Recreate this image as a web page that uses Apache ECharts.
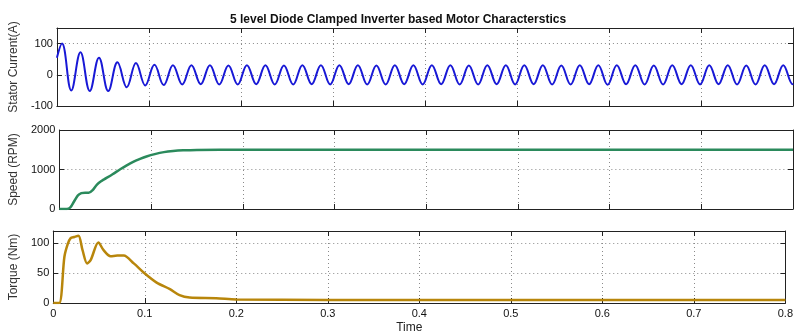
<!DOCTYPE html>
<html><head><meta charset="utf-8">
<script src="https://cdn.jsdelivr.net/npm/echarts@6/dist/echarts.min.js"></script>
<style>html,body{margin:0;padding:0;background:#fff}#c{width:796px;height:335px}</style>
</head><body><div id="c"></div>
<script>
const titleText = '5 level Diode Clamped Inverter based Motor Characterstics';
const yNames = ['Stator Current(A)', 'Speed (RPM)', 'Torque (Nm)'];
const xName = 'Time';

// Stator current: extrema (peaks / troughs)
const currentT = [0, 0.0055, 0.0156, 0.0256, 0.0357, 0.0457, 0.0558, 0.0658, 0.0759, 0.0859, 0.0960,
  0.1060, 0.1161, 0.1261, 0.1362, 0.1462, 0.1563, 0.1663, 0.1764, 0.1864, 0.1965,
  0.2065, 0.2166, 0.2266, 0.2367, 0.2467, 0.2568, 0.2668, 0.2769, 0.2869, 0.2970,
  0.3070, 0.3171, 0.3271, 0.3372, 0.3472, 0.3573, 0.3673, 0.3774, 0.3874, 0.3975,
  0.4075, 0.4176, 0.4276, 0.4377, 0.4477, 0.4578, 0.4678, 0.4779, 0.4879, 0.4980,
  0.5080, 0.5181, 0.5281, 0.5382, 0.5482, 0.5583, 0.5683, 0.5784, 0.5884, 0.5985,
  0.6085, 0.6186, 0.6286, 0.6387, 0.6487, 0.6588, 0.6688, 0.6789, 0.6889, 0.6990,
  0.7090, 0.7191, 0.7291, 0.7392, 0.7492, 0.7593, 0.7693, 0.7794, 0.7894, 0.7995, 0.8];
const currentV = [55, 100, -50, 72, -52, 55, -52, 40, -40, 38, -34,
  32, -33, 31, -31, 31, -30, 31, -31, 30, -31,
  31, -30, 31, -31, 30, -31, 31, -30, 31, -31,
  31, -30, 31, -31, 30, -31, 31, -30, 31, -31,
  31, -30, 31, -31, 30, -31, 31, -30, 31, -31,
  31, -30, 31, -31, 30, -31, 31, -30, 31, -32,
  31, -30, 31, -31, 30, -31, 31, -30, 31, -31,
  31, -30, 31, -31, 30, -31, 31, -30, 31, -30, -28];

// Speed (RPM)
const speedT = [0, 0.008, 0.012, 0.016, 0.020, 0.024, 0.028, 0.032, 0.036, 0.041, 0.046, 0.051, 0.058,
  0.066, 0.073, 0.081, 0.088, 0.095, 0.104, 0.114, 0.124, 0.135, 0.150, 0.200, 0.800];
const speedV = [0, 0, 40, 190, 340, 400, 410, 410, 470, 620, 710, 780, 880,
  1000, 1100, 1200, 1270, 1330, 1390, 1440, 1468, 1485, 1495, 1500, 1500];

// Torque (Nm)
const torqueT = [0, 0.0065, 0.0122, 0.0158, 0.019, 0.023, 0.0275, 0.032, 0.037, 0.041, 0.0493, 0.055,
  0.0626, 0.070, 0.077, 0.088, 0.0994, 0.113, 0.1275, 0.138, 0.149, 0.178, 0.200, 0.300, 0.500, 0.800];
const torqueV = [0, 0, 77, 98, 108, 110, 112, 88, 66, 72, 101, 88,
  78, 79, 79, 66, 50, 34, 23, 13, 9, 8, 6, 5, 5, 5];

const xTickInterval = 0.1;
const yRanges = [
  {min: -100, max: 150, interval: 100},
  {min: 0, max: 2000, interval: 1000},
  {min: 0, max: 120, interval: 50}
];

const zip = (a, b) => a.map((t, i) => [t, b[i]]);

const grids = [
  {left: 52, right: 3, top: 28, height: 78},
  {left: 56, right: 3, top: 130, height: 79},
  {left: 52, right: 3, top: 231, height: 75}
];

const axisLineStyle = {color: '#222', width: 1};
const tickStyle = {show: true, inside: true, length: 5, lineStyle: {color: '#222'}};
const dotted = {show: true, lineStyle: {color: '#8a8a8a', type: [1, 3], width: 1}};
const labelFont = {fontFamily: 'Liberation Sans, Arial, sans-serif', fontSize: 11, color: '#111'};
const plain = v => String(v);

const xAxes = [], yAxes = [];
grids.forEach((g, i) => {
  xAxes.push({
    type: 'value', gridIndex: i, min: 0, max: 0.8, interval: xTickInterval, position: 'bottom',
    axisLine: {show: true, onZero: false, lineStyle: axisLineStyle}, axisTick: tickStyle,
    axisLabel: Object.assign({show: i === 2, margin: 5, formatter: plain}, labelFont),
    splitLine: dotted,
    name: i === 2 ? xName : '', nameLocation: 'middle', nameGap: 19,
    nameTextStyle: {fontFamily: 'Liberation Sans, Arial, sans-serif', fontSize: 12, color: '#222', padding: [0, 20, 0, 0]}
  });
  xAxes.push({
    type: 'value', gridIndex: i, min: 0, max: 0.8, interval: xTickInterval, position: 'top',
    axisLine: {show: true, onZero: false, lineStyle: axisLineStyle}, axisTick: tickStyle,
    axisLabel: {show: false}, splitLine: {show: false}
  });
  const r = yRanges[i];
  yAxes.push({
    type: 'value', gridIndex: i, min: r.min, max: r.max, interval: r.interval, position: 'left',
    axisLine: {show: true, onZero: false, lineStyle: axisLineStyle}, axisTick: tickStyle,
    axisLabel: Object.assign({show: true, margin: 4, formatter: plain, showMaxLabel: i === 1}, labelFont),
    splitLine: dotted,
    name: yNames[i], nameLocation: 'middle', nameGap: 31,
    nameTextStyle: {fontFamily: 'Liberation Sans, Arial, sans-serif', fontSize: 12, color: '#333'}
  });
  yAxes.push({
    type: 'value', gridIndex: i, min: r.min, max: r.max, interval: r.interval, position: 'right',
    axisLine: {show: true, onZero: false, lineStyle: axisLineStyle}, axisTick: tickStyle,
    axisLabel: {show: false}, splitLine: {show: false}
  });
});

const chart = echarts.init(document.getElementById('c'), null, {renderer: 'canvas'});
chart.setOption({
  animation: false,
  backgroundColor: '#fff',
  title: {text: titleText, left: 'center', top: 9,
    textStyle: {fontFamily: 'Liberation Sans, Arial, sans-serif', fontSize: 12, fontWeight: 'bold', color: '#111'}},
  grid: grids,
  xAxis: xAxes,
  yAxis: yAxes,
  series: [
    {type: 'line', xAxisIndex: 0, yAxisIndex: 0, data: zip(currentT, currentV), smooth: 0.4,
      showSymbol: false, lineStyle: {color: '#1818d6', width: 2}},
    {type: 'line', xAxisIndex: 2, yAxisIndex: 2, data: zip(speedT, speedV), smooth: 0.3,
      showSymbol: false, lineStyle: {color: '#2b8a5c', width: 2.5}},
    {type: 'line', xAxisIndex: 4, yAxisIndex: 4, data: zip(torqueT, torqueV), smooth: 0.3,
      showSymbol: false, lineStyle: {color: '#b8860b', width: 2.5}}
  ]
});
</script>
</body></html>
